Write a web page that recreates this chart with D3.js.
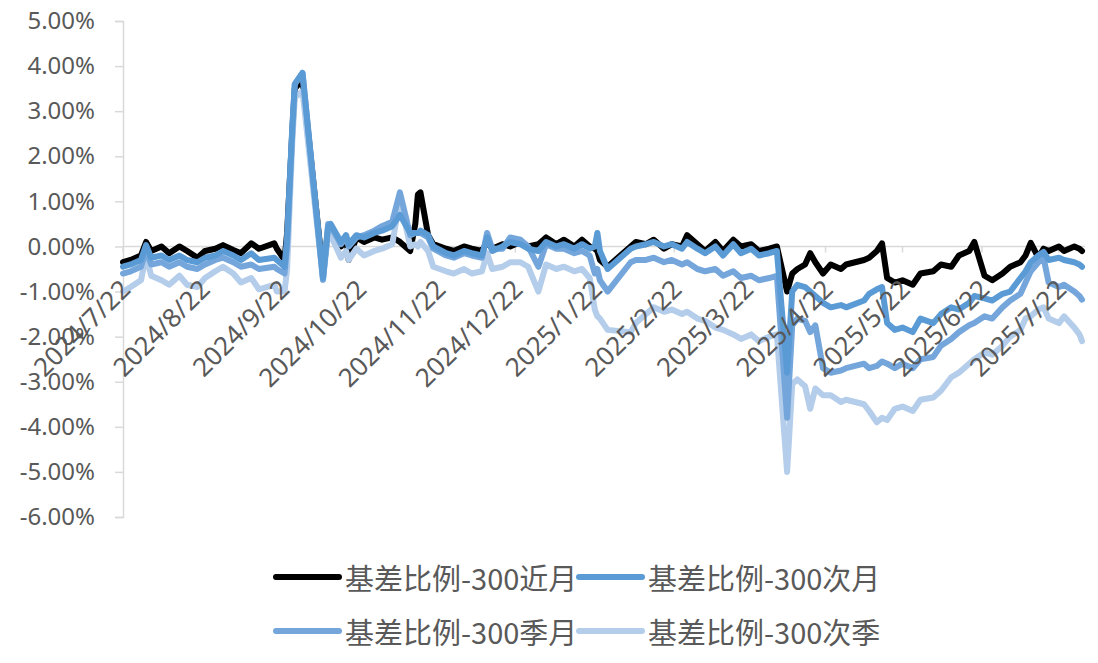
<!DOCTYPE html>
<html><head><meta charset="utf-8">
<script src="https://cdn.jsdelivr.net/npm/d3@7"></script>
<style>
html,body{margin:0;padding:0;background:#fff;}
svg{display:block;}
text{font-family:"Noto Sans","Noto Sans CJK SC",sans-serif;}
</style></head>
<body>
<svg id="chart" width="1098" height="663"></svg>
<script>
const dates = [
"2024-07-22","2024-07-25","2024-07-29","2024-07-31","2024-08-02","2024-08-06","2024-08-09","2024-08-13","2024-08-16","2024-08-20",
"2024-08-23","2024-08-27","2024-08-30","2024-09-03","2024-09-06","2024-09-10","2024-09-13","2024-09-19","2024-09-20","2024-09-23",
"2024-09-24","2024-09-26","2024-09-27","2024-09-30","2024-10-08","2024-10-10","2024-10-11","2024-10-15","2024-10-17","2024-10-18",
"2024-10-21","2024-10-24","2024-10-28","2024-10-31","2024-11-04","2024-11-07","2024-11-11","2024-11-13","2024-11-14","2024-11-15",
"2024-11-18","2024-11-20","2024-11-25","2024-11-28","2024-12-02","2024-12-05","2024-12-09","2024-12-11","2024-12-13","2024-12-17",
"2024-12-20","2024-12-24","2024-12-27","2024-12-31","2025-01-03","2025-01-07","2025-01-10","2025-01-14","2025-01-17","2025-01-20",
"2025-01-22","2025-01-23","2025-01-24","2025-01-27","2025-02-05","2025-02-07","2025-02-11","2025-02-14","2025-02-18","2025-02-21",
"2025-02-25","2025-02-27","2025-03-03","2025-03-06","2025-03-10","2025-03-13","2025-03-17","2025-03-20","2025-03-24","2025-03-27",
"2025-03-31","2025-04-03","2025-04-07","2025-04-09","2025-04-11","2025-04-14","2025-04-16","2025-04-18","2025-04-21","2025-04-24",
"2025-04-28","2025-04-30","2025-05-07","2025-05-09","2025-05-12","2025-05-14","2025-05-16","2025-05-19","2025-05-22","2025-05-26",
"2025-05-29","2025-06-03","2025-06-06","2025-06-10","2025-06-13","2025-06-17","2025-06-19","2025-06-23","2025-06-26","2025-06-30",
"2025-07-03","2025-07-07","2025-07-09","2025-07-11","2025-07-14","2025-07-16","2025-07-18","2025-07-22","2025-07-24","2025-07-28",
"2025-07-30","2025-07-31"
];
// 基差比例-300近月 (%)
const nearMonth = [
-0.35,-0.3,-0.2,0.1,-0.1,0.0,-0.15,0.0,-0.1,-0.25,
-0.1,-0.05,0.03,-0.08,-0.15,0.07,-0.05,0.07,-0.05,-0.3,
0.3,2.5,3.5,3.7,-0.6,0.35,0.4,0.0,0.2,-0.3,
0.2,0.1,0.2,0.15,0.2,0.1,-0.1,0.5,1.15,1.2,
0.25,0.05,-0.05,-0.1,0.0,-0.05,-0.1,0.1,-0.05,0.05,
0.0,0.1,0.0,0.05,0.2,0.05,0.15,0.0,0.15,0.0,
-0.05,-0.1,-0.3,-0.45,0.0,0.1,0.05,0.15,-0.05,0.05,
0.0,0.25,0.05,-0.1,0.1,-0.1,0.15,0.0,0.05,-0.1,
-0.05,0.0,-1.0,-0.6,-0.5,-0.4,-0.15,-0.35,-0.6,-0.4,
-0.5,-0.4,-0.3,-0.25,-0.1,0.07,-0.7,-0.8,-0.75,-0.85,
-0.6,-0.55,-0.4,-0.45,-0.2,-0.1,0.1,-0.65,-0.75,-0.6,
-0.45,-0.35,-0.2,0.08,-0.25,-0.05,-0.1,0.0,-0.1,0.0,
-0.05,-0.1
];
// 基差比例-300次月 (%)
const nextMonth = [
-0.45,-0.4,-0.3,0.03,-0.25,-0.2,-0.3,-0.2,-0.3,-0.35,
-0.25,-0.2,-0.1,-0.2,-0.3,-0.15,-0.3,-0.25,-0.3,-0.45,
0.2,2.6,3.6,3.85,-0.7,0.45,0.5,0.1,0.25,0.05,
0.25,0.2,0.3,0.35,0.45,0.7,0.3,0.3,0.3,0.35,
0.25,0.0,-0.15,-0.2,-0.1,-0.15,-0.2,0.2,-0.1,0.0,
0.1,0.05,-0.05,-0.1,0.1,0.0,0.05,-0.05,0.05,-0.05,
0.0,0.3,-0.1,-0.5,-0.05,0.0,0.05,0.1,0.0,0.05,
-0.05,0.1,-0.05,-0.15,0.0,-0.2,0.05,-0.15,-0.05,-0.2,
-0.15,-0.1,-2.8,-1.0,-0.85,-0.9,-1.0,-1.1,-1.25,-1.35,
-1.3,-1.35,-1.2,-1.05,-0.95,-0.9,-1.7,-1.85,-1.8,-1.9,
-1.6,-1.7,-1.5,-1.35,-1.4,-1.25,-1.1,-1.15,-1.2,-1.05,
-1.0,-0.7,-0.55,-0.35,-0.2,-0.12,-0.3,-0.25,-0.3,-0.35,
-0.4,-0.45
];
// 基差比例-300季月 (%)
const quarterMonth = [
-0.6,-0.55,-0.45,-0.1,-0.4,-0.35,-0.45,-0.35,-0.45,-0.5,
-0.4,-0.3,-0.25,-0.35,-0.45,-0.4,-0.5,-0.45,-0.5,-0.6,
0.0,2.6,3.6,3.85,-0.74,0.5,0.45,0.05,0.2,0.0,
0.2,0.25,0.35,0.45,0.55,1.2,0.25,0.3,0.3,0.3,
0.2,-0.05,-0.2,-0.25,-0.15,-0.2,-0.25,0.3,-0.05,-0.05,
0.2,0.15,0.0,-0.45,0.05,-0.05,-0.05,-0.15,-0.1,-0.2,
-0.6,-0.5,-0.75,-1.0,-0.35,-0.3,-0.3,-0.25,-0.35,-0.3,
-0.4,-0.35,-0.5,-0.55,-0.5,-0.65,-0.55,-0.7,-0.65,-0.75,
-0.7,-0.65,-3.8,-1.75,-1.6,-1.65,-1.9,-1.75,-2.7,-2.8,
-2.75,-2.7,-2.6,-2.7,-2.65,-2.55,-2.6,-2.7,-2.6,-2.7,
-2.5,-2.45,-2.2,-2.05,-1.9,-1.75,-1.7,-1.55,-1.6,-1.35,
-1.2,-1.05,-0.8,-0.55,-0.35,-0.25,-0.8,-0.9,-0.85,-1.0,
-1.1,-1.18
];
// 基差比例-300次季 (%)
const nextQuarter = [
-1.0,-0.9,-0.75,-0.2,-0.65,-0.75,-0.85,-0.65,-0.85,-0.9,
-0.7,-0.55,-0.45,-0.6,-0.8,-0.7,-0.95,-0.85,-1.0,-1.0,
-0.5,2.3,3.3,3.45,-0.74,0.3,0.25,-0.25,-0.1,-0.3,
-0.05,-0.2,-0.1,-0.05,0.05,1.05,0.0,0.05,0.0,0.1,
-0.1,-0.45,-0.55,-0.6,-0.5,-0.6,-0.55,-0.15,-0.5,-0.45,
-0.35,-0.35,-0.45,-1.0,-0.4,-0.5,-0.45,-0.55,-0.5,-0.7,
-1.4,-1.55,-1.6,-1.85,-1.9,-1.7,-1.5,-1.35,-1.45,-1.4,
-1.5,-1.45,-1.6,-1.65,-1.8,-1.85,-1.95,-2.05,-1.95,-2.1,
-2.0,-1.95,-5.0,-3.05,-2.95,-3.1,-3.6,-3.15,-3.3,-3.3,
-3.45,-3.4,-3.5,-3.65,-3.9,-3.8,-3.85,-3.6,-3.55,-3.65,
-3.4,-3.35,-3.2,-2.9,-2.8,-2.6,-2.5,-2.35,-2.4,-2.2,
-2.0,-1.85,-1.6,-1.55,-1.4,-1.35,-1.6,-1.7,-1.55,-1.8,
-1.95,-2.1
];
const seriesNames = ["基差比例-300近月","基差比例-300次月","基差比例-300季月","基差比例-300次季"];
const yTickValues = [5,4,3,2,1,0,-1,-2,-3,-4,-5,-6];
const xTickLabels = ["2024/7/22","2024/8/22","2024/9/22","2024/10/22","2024/11/22","2024/12/22","2025/1/22","2025/2/22","2025/3/22","2025/4/22","2025/5/22","2025/6/22","2025/7/22"];

const colors = ["#000000","#5b9bd5","#74a6dc","#b4cdea"];
const seriesValues = [nearMonth,nextMonth,quarterMonth,nextQuarter];
const parse = d3.timeParse("%Y-%m-%d");
const parseLabel = d3.timeParse("%Y/%m/%d");
const dateObjs = dates.map(parse);

const svg = d3.select("#chart");
const x = d3.scaleTime().domain([parse("2024-07-22"), parse("2025-07-31")]).range([123, 1082]);
const y = d3.scaleLinear().domain([-6, 5]).range([517, 21]);

// y axis
const yAxis = d3.axisLeft(y).tickValues(yTickValues).tickFormat(d => d.toFixed(2) + "%").tickSize(8).tickPadding(20);
const gy = svg.append("g").attr("transform", "translate(123,0)").call(yAxis);
gy.select(".domain").attr("stroke", "#d9d9d9").attr("stroke-width", 1.5);
gy.selectAll(".tick line").attr("stroke", "#d9d9d9").attr("stroke-width", 1.5);
gy.selectAll(".tick text").attr("fill", "#595959").style("font-size", "24px").style("font-family", "'Noto Sans', sans-serif");

// zero line (category axis)
const y0 = y(0);
svg.append("line").attr("x1", 123).attr("x2", 1085).attr("y1", y0).attr("y2", y0)
  .attr("stroke", "#d9d9d9").attr("stroke-width", 1.5);

const tickDates = xTickLabels.map(parseLabel);
svg.append("g").selectAll("line").data(tickDates).join("line")
  .attr("x1", d => x(d)).attr("x2", d => x(d)).attr("y1", y0).attr("y2", y0 + 6)
  .attr("stroke", "#d9d9d9").attr("stroke-width", 1.5);

// lines: near month bottom, then next quarter, quarter month, next month on top
const order = [0, 3, 2, 1];
const line = d3.line().x((d, i) => x(dateObjs[i])).y(d => y(d));
svg.append("g").selectAll("path").data(order).join("path")
  .attr("d", k => line(seriesValues[k]))
  .attr("fill", "none")
  .attr("stroke", k => colors[k])
  .attr("stroke-width", 6)
  .attr("stroke-linejoin", "round")
  .attr("stroke-linecap", "round");

// x labels (drawn over lines)
svg.append("g").selectAll("text").data(xTickLabels).join("text")
  .attr("transform", (d, i) => `translate(${x(tickDates[i]) + 9},${291}) rotate(-45)`)
  .attr("text-anchor", "end")
  .attr("fill", "#595959")
  .style("font-size", "26px")
  .text(d => d);

// legend
const legendItems = [
  {k: 0, lx: 276, ly: 577},
  {k: 1, lx: 579, ly: 577},
  {k: 2, lx: 276, ly: 631},
  {k: 3, lx: 579, ly: 631}
];
const lg = svg.append("g").selectAll("g").data(legendItems).join("g");
lg.append("line")
  .attr("x1", d => d.lx).attr("x2", d => d.lx + 63)
  .attr("y1", d => d.ly).attr("y2", d => d.ly)
  .attr("stroke", d => colors[d.k]).attr("stroke-width", 6).attr("stroke-linecap", "round");
lg.append("text")
  .attr("x", d => d.lx + 69).attr("y", d => d.ly)
  .attr("dominant-baseline", "central")
  .attr("fill", "#595959")
  .style("font-size", "29px")
  .style("font-family", "'Noto Sans CJK SC', sans-serif")
  .text(d => seriesNames[d.k]);
</script>
</body></html>
